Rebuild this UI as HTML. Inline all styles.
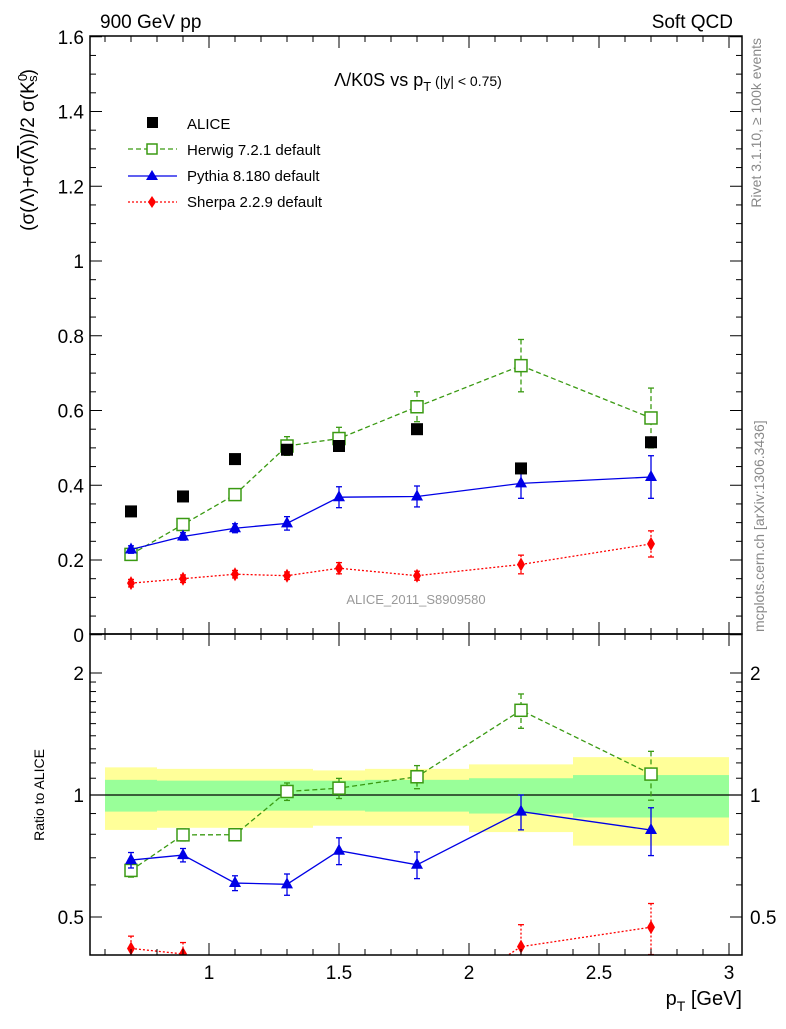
<!DOCTYPE html>
<html><head><meta charset="utf-8"><style>
body{margin:0;background:#fff}
svg text{font-family:"Liberation Sans",Arial,sans-serif}
</style></head><body>
<svg id="c" width="786" height="1024" xmlns="http://www.w3.org/2000/svg">
<g id="bands"></g>
<g id="marks"></g>
<g id="axes"></g>
<text x="100" y="28" font-size="19">900 GeV pp</text>
<text x="733" y="28" font-size="19" text-anchor="end">Soft QCD</text>
<text x="418" y="86" font-size="18" text-anchor="middle">Λ/K0S vs p<tspan font-size="13" dy="5">T</tspan><tspan font-size="14" dy="-5"> (|y| &lt; 0.75)</tspan></text>
<text transform="translate(34,150) rotate(-90)" font-size="19" text-anchor="middle">(σ(Λ)+σ(<tspan text-decoration="overline">Λ</tspan>))/2 σ(K<tspan font-size="13" dy="-7">0</tspan><tspan font-size="13" dy="10" dx="-8">s</tspan><tspan dy="-3">)</tspan></text>
<text transform="translate(44,795) rotate(-90)" font-size="14" text-anchor="middle">Ratio to ALICE</text>
<text x="742" y="1005" font-size="20" text-anchor="end">p<tspan font-size="14" dy="6">T</tspan><tspan dy="-6"> [GeV]</tspan></text>
<text transform="translate(761,38) rotate(-90)" font-size="14" fill="#888" text-anchor="end">Rivet 3.1.10, ≥ 100k events</text>
<text transform="translate(764,632) rotate(-90)" font-size="14" fill="#888">mcplots.cern.ch [arXiv:1306.3436]</text>
<text x="416" y="604" font-size="13" fill="#999" text-anchor="middle">ALICE_2011_S8909580</text>
<g>
<rect x="147" y="117" width="11" height="11" fill="#000"/>
<text x="187" y="129" font-size="15">ALICE</text>
<line x1="128" y1="149" x2="177" y2="149" stroke="#3a9a12" stroke-width="1.3" stroke-dasharray="5,3"/>
<rect x="147" y="144" width="10" height="10" fill="#fff" stroke="#3a9a12" stroke-width="1.5"/>
<text x="187" y="155" font-size="15">Herwig 7.2.1 default</text>
<line x1="128" y1="176" x2="177" y2="176" stroke="#0000e6" stroke-width="1.3"/>
<polygon points="152,170 158,180 146,180" fill="#0000e6"/>
<text x="187" y="181" font-size="15">Pythia 8.180 default</text>
<line x1="128" y1="202" x2="177" y2="202" stroke="#f00" stroke-width="1.3" stroke-dasharray="2,2"/>
<polygon points="152,196 156,202 152,208 148,202" fill="#f00"/>
<text x="187" y="207" font-size="15">Sherpa 2.2.9 default</text>
</g>
</svg>
<script>
const xVals=[0.7,0.9,1.1,1.3,1.5,1.8,2.2,2.7];
const aliceY=[0.33,0.37,0.47,0.495,0.505,0.55,0.445,0.515];
const herwigY=[0.215,0.295,0.375,0.505,0.525,0.61,0.72,0.58];
const herwigErr=[0.008,0.01,0.01,0.025,0.03,0.04,0.07,0.08];
const pythiaY=[0.228,0.263,0.285,0.298,0.368,0.37,0.405,0.422];
const pythiaErr=[0.01,0.01,0.012,0.018,0.028,0.028,0.04,0.057];
const sherpaY=[0.138,0.15,0.162,0.158,0.178,0.158,0.188,0.243];
const sherpaErr=[0.01,0.01,0.01,0.01,0.015,0.012,0.025,0.035];
const binEdges=[0.6,0.8,1.0,1.2,1.4,1.6,2.0,2.4,3.0];
const totUp=[0.17,0.16,0.16,0.16,0.15,0.16,0.19,0.24];
const totDn=[0.18,0.17,0.17,0.17,0.16,0.16,0.19,0.25];
const statRelErr=[0.09,0.085,0.085,0.085,0.085,0.09,0.1,0.12];
const yTicks=[0,0.2,0.4,0.6,0.8,1,1.2,1.4,1.6];
const xTicks=[1,1.5,2,2.5,3];

const NS="http://www.w3.org/2000/svg";
const L=90,R=742,T=36,MB=634,RB=955;
const X=v=>209+(v-1)*260;
const Y=v=>634.75-v*373.75;
const RY=v=>795-Math.log2(v)*122;
function el(p,tag,at){const e=document.createElementNS(NS,tag);for(const k in at)e.setAttribute(k,at[k]);p.appendChild(e);return e;}
const bands=document.getElementById('bands'),marks=document.getElementById('marks'),axes=document.getElementById('axes');
const cl=el(document.getElementById('c'),'clipPath',{id:'rc'});el(cl,'rect',{x:L,y:MB,width:R-L,height:RB-MB});

for(let i=0;i<totUp.length;i++){
 const x1=X(binEdges[i]),x2=X(binEdges[i+1]);
 const y=el(bands,'rect',{x:x1,y:RY(1+totUp[i]),width:x2-x1,height:RY(1-totDn[i])-RY(1+totUp[i]),fill:'#ffff99'});
 
 
 const g=el(bands,'rect',{x:x1,y:RY(1+statRelErr[i]),width:x2-x1,height:RY(1-statRelErr[i])-RY(1+statRelErr[i]),fill:'#99ff99'});
 
 
}
el(marks,'line',{x1:L,y1:RY(1),x2:R,y2:RY(1),stroke:'#000','stroke-width':1.3});

function marker(p,type,x,y,col,name){
 let m;
 if(type==='sq')m=el(p,'rect',{x:x-6,y:y-6,width:12,height:12,fill:'#fff',stroke:col,'stroke-width':1.5});
 else if(type==='tri')m=el(p,'polygon',{points:`${x},${y-7} ${x+6},${y+4} ${x-6},${y+4}`,fill:col});
 else m=el(p,'polygon',{points:`${x},${y-7} ${x+4},${y} ${x},${y+7} ${x-4},${y}`,fill:col});
 
 
}
function series(vals,errs,col,dash,type,name,ratio){
 const g=el(marks,'g',{});
 if(ratio)g.setAttribute('clip-path','url(#rc)');
 const yf=ratio?RY:Y;
 const pv=vals.map((v,i)=>ratio?v/aliceY[i]:v);
 const pe=errs.map((e,i)=>ratio?e/aliceY[i]:e);
 el(g,'polyline',{points:pv.map((v,i)=>X(xVals[i])+','+yf(v)).join(' '),fill:'none',stroke:col,'stroke-width':1.3,'stroke-dasharray':dash});
 pv.forEach((v,i)=>{
  const x=X(xVals[i]);
  el(g,'line',{x1:x,y1:yf(v+pe[i]),x2:x,y2:yf(Math.max(v-pe[i],0.01)),stroke:col,'stroke-width':1.3,'stroke-dasharray':dash});
  el(g,'line',{x1:x-3,y1:yf(v+pe[i]),x2:x+3,y2:yf(v+pe[i]),stroke:col,'stroke-width':1.3});
  el(g,'line',{x1:x-3,y1:yf(Math.max(v-pe[i],0.01)),x2:x+3,y2:yf(Math.max(v-pe[i],0.01)),stroke:col,'stroke-width':1.3});
  marker(g,type,x,yf(v),col,name+(ratio?'-ratio-point':'-point'));
 });
}
series(herwigY,herwigErr,'#3a9a12','5,3','sq','herwig',false);
series(pythiaY,pythiaErr,'#0000e6','','tri','pythia',false);
series(sherpaY,sherpaErr,'#f00','2,2','dia','sherpa',false);
series(herwigY,herwigErr,'#3a9a12','5,3','sq','herwig',true);
series(pythiaY,pythiaErr,'#0000e6','','tri','pythia',true);
series(sherpaY,sherpaErr,'#f00','2,2','dia','sherpa',true);
aliceY.forEach((v,i)=>{
 const r=el(marks,'rect',{x:X(xVals[i])-6,y:Y(v)-6,width:12,height:12,fill:'#000'});
 
 
});

el(axes,'rect',{x:L,y:T,width:R-L,height:MB-T,fill:'none',stroke:'#000','stroke-width':1.5});
el(axes,'rect',{x:L,y:MB,width:R-L,height:RB-MB,fill:'none',stroke:'#000','stroke-width':1.5});
for(let v=0;v<=1.6001;v+=0.05){
 const major=Math.abs(v*5-Math.round(v*5))<1e-6, len=major?12:6;
 el(axes,'line',{x1:L,y1:Y(v),x2:L+len,y2:Y(v),stroke:'#000'});
 el(axes,'line',{x1:R,y1:Y(v),x2:R-len,y2:Y(v),stroke:'#000'});
}
yTicks.forEach(v=>{const t=el(axes,'text',{x:L-6,y:Y(v)+7,'font-size':19,'text-anchor':'end'});t.textContent=String(v);
 
 });
for(let v=0.6;v<=3.0501;v+=0.1){
 const major=Math.abs(v*2-Math.round(v*2))<1e-6, len=major?12:6;
 [MB,RB].forEach(b=>{el(axes,'line',{x1:X(v),y1:b,x2:X(v),y2:b-len,stroke:'#000'});});
 [T,MB].forEach(b=>{el(axes,'line',{x1:X(v),y1:b,x2:X(v),y2:b+len,stroke:'#000'});});
}
xTicks.forEach(v=>{const t=el(axes,'text',{x:X(v),y:979,'font-size':19,'text-anchor':'middle'});t.textContent=String(v);
 
 });
[0.5,0.6,0.7,0.8,0.9,1,1.1,1.2,1.3,1.4,1.5,1.6,1.7,1.8,1.9,2].forEach(v=>{const len=(v===0.5||v===1||v===2)?12:6;
 el(axes,'line',{x1:L,y1:RY(v),x2:L+len,y2:RY(v),stroke:'#000'});el(axes,'line',{x1:R,y1:RY(v),x2:R-len,y2:RY(v),stroke:'#000'});});
[0.5,1,2].forEach(v=>{[[L-6,'end'],[R+8,'start']].forEach(([x,a])=>{const t=el(axes,'text',{x:x,y:RY(v)+7,'font-size':19,'text-anchor':a});t.textContent=String(v);
 
 });});
</script>
</body></html>
